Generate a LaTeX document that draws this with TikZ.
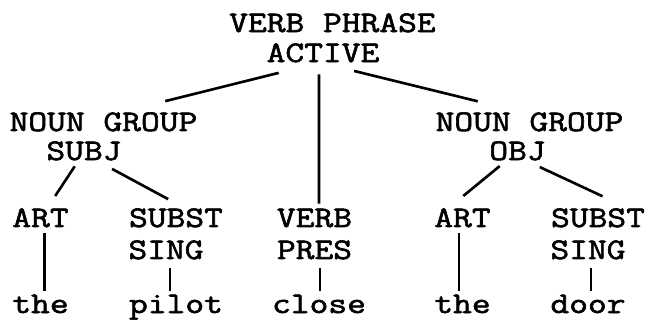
\documentclass[tikz,border=0pt]{standalone}
\usepackage{fontspec}
\setmonofont{Latin Modern Mono}[FakeStretch=1.22,FakeBold=2]
\tikzset{
  word/.style={anchor=base,inner sep=0pt,text height=0.36cm,text depth=0pt,
    font=\fontsize{17}{20}\selectfont\ttfamily},
}
\begin{document}
\begin{tikzpicture}[line width=1.5pt]
        \useasboundingbox (0,0) rectangle (12.92,-6.58);
        \node[word] (vp) at (6.65,-0.64) {VERB PHRASE};
        \node[word] (active) at (6.46,-1.24) {ACTIVE};
        \node[word] (ngs) at (2.07,-2.62) {NOUN GROUP};
        \node[word] (subj) at (1.68,-3.20) {SUBJ};
        \node[word] (ngo) at (10.59,-2.62) {NOUN GROUP};
        \node[word] (obj) at (10.35,-3.20) {OBJ};
        \node[word] (art1) at (0.81,-4.54) {ART};
        \node[word] (subst1) at (3.52,-4.54) {SUBST};
        \node[word] (sing1) at (3.32,-5.18) {SING};
        \node[word] (verb) at (6.29,-4.54) {VERB};
        \node[word] (pres) at (6.29,-5.18) {PRES};
        \node[word] (art2) at (9.25,-4.54) {ART};
        \node[word] (subst2) at (11.96,-4.54) {SUBST};
        \node[word] (sing2) at (11.76,-5.18) {SING};
        \node[word] (the1) at (0.81,-6.26) {the};
        \node[word] (pilot) at (3.52,-6.26) {pilot};
        \node[word] (close) at (6.38,-6.26) {close};
        \node[word] (the2) at (9.25,-6.26) {the};
        \node[word] (door) at (11.76,-6.26) {door};
        \draw[shorten <=0.79cm,shorten >=0.87cm] ([xshift=-0.12cm]active.south) -- ([xshift=0.39cm]ngs.north);
        \draw[shorten <=0.22cm,shorten >=0.08cm] ([xshift=-0.08cm]active.south) -- ([xshift=0.09cm]verb.north);
        \draw[shorten <=0.64cm,shorten >=0.87cm] (active.south) -- ([xshift=-0.19cm]ngo.north);
        \draw[shorten <=0.12cm,shorten >=0.28cm] ([xshift=-0.12cm]subj.south) -- ([xshift=0.14cm]art1.north);
        \draw[shorten <=0.32cm,shorten >=0.36cm] ([xshift=0.28cm]subj.south) -- ([xshift=0.16cm]subst1.north);
        \draw[shorten <=0.15cm,shorten >=0.37cm] ([xshift=-0.24cm]obj.south) -- ([xshift=-0.27cm]art2.north);
        \draw[shorten <=0.27cm,shorten >=0.54cm] ([xshift=0.2cm]obj.south) -- ([xshift=0.58cm]subst2.north);
        \draw[shorten <=0.1cm,shorten >=0.06cm] ([xshift=0.08cm]art1.south) -- ([xshift=0.08cm]the1.north);
        \draw[shorten <=0.16cm,shorten >=0.06cm] ([xshift=0.08cm]sing1.south) -- ([xshift=0.08cm]sing1.south |- pilot.north);
        \draw[shorten <=0.16cm,shorten >=0.06cm] ([xshift=0.11cm]pres.south) -- ([xshift=0.11cm]pres.south |- close.north);
        \draw[shorten <=0.1cm,shorten >=0.06cm] ([xshift=-0.07cm]art2.south) -- ([xshift=-0.07cm]the2.north);
        \draw[shorten <=0.16cm,shorten >=0.06cm] ([xshift=0.06cm]sing2.south) -- ([xshift=0.06cm]door.north);
      \end{tikzpicture}
\end{document}
